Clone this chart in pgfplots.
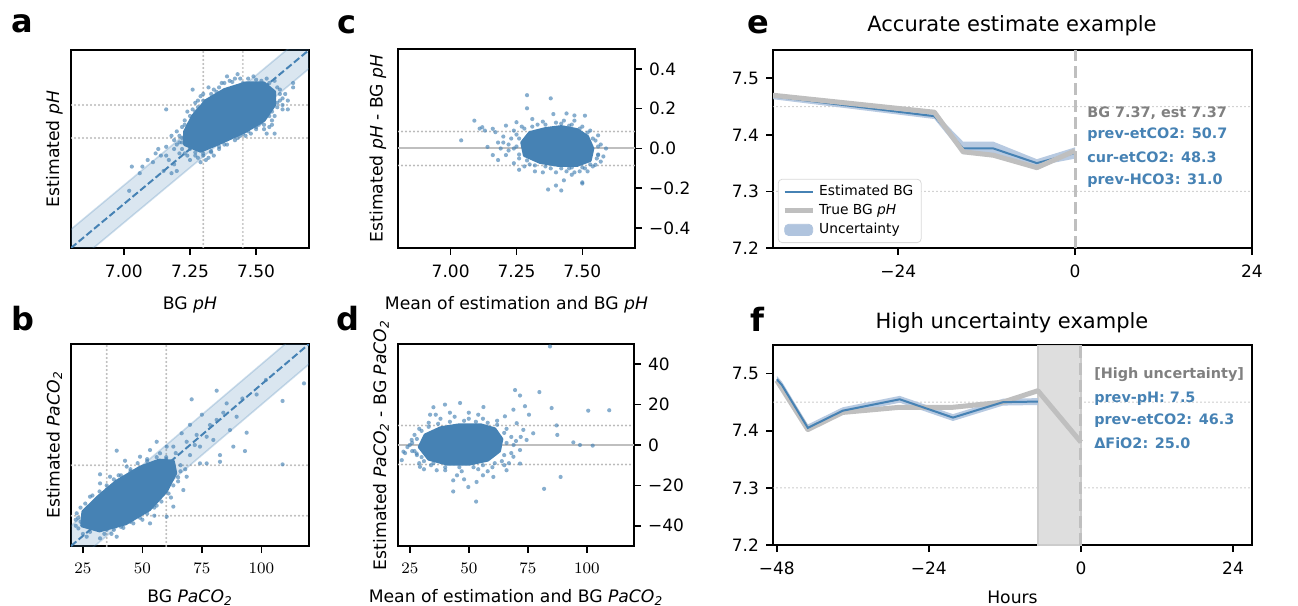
\documentclass[border=0pt]{standalone}
\usepackage{fontspec}
\setmainfont{DejaVu Sans}[ItalicFont={DejaVu Sans Oblique},BoldFont={DejaVu Sans Bold},BoldItalicFont={DejaVu Sans Bold Oblique}]
\usepackage{pgfplots}
\pgfplotsset{compat=1.18}

\definecolor{steelblue}{RGB}{70,130,180}
\definecolor{lsteel}{RGB}{176,196,222}
\definecolor{annogray}{RGB}{128,128,128}
\newcommand\tk{\fontsize{8.5}{10}\selectfont}
\newcommand\lb{\fontsize{8.6}{10}\selectfont}
\newcommand\ttl{\fontsize{10.5}{12}\selectfont}
\newcommand\anno{\fontsize{7.2}{8.5}\selectfont\bfseries}
\newcommand\letter{\fontsize{16}{18}\selectfont\bfseries}

\pgfplotsset{
  panel/.style={
    scale only axis, anchor=south west,
    axis line style={line width=0.9pt},
    every tick/.style={black, line width=0.8pt},
    major tick length=3.5pt, tick align=outside,
    xtick pos=bottom, ytick pos=left,
    tick label style={font=\tk}, label style={font=\lb},
    xticklabel style={yshift=-1.5pt},
  },
  dots/.style={only marks, mark=*, mark size=1.05pt, color=steelblue,
    mark options={draw opacity=0, fill=steelblue, fill opacity=0.65}},
  core/.style={fill=steelblue, draw=steelblue, line width=1.5pt, line join=round},
  refdot/.style={black!27, line width=1.1pt, line cap=round, dash pattern=on 0pt off 2pt},
  thindot/.style={black!27, line width=0.8pt, line cap=round, dash pattern=on 0pt off 2pt},
  band/.style={fill=steelblue, fill opacity=0.2, draw=steelblue, draw opacity=0.25, line width=0.8pt},
  diag/.style={steelblue, line width=1pt, dash pattern=on 3.5pt off 1.5pt},
}

\begin{document}
\begin{tikzpicture}
\path[use as bounding box] (0,0) rectangle (649pt,303pt);

% ---------- a ----------
\begin{axis}[panel, at={(35.5pt,179pt)}, width=119pt, height=99pt,
  xmin=6.8, xmax=7.7, ymin=6.8, ymax=7.7,
  xtick={7,7.25,7.5}, xticklabels={7.00,7.25,7.50}, ytick=\empty,
  xlabel={BG \textit{pH}}, ylabel={Estimated \textit{pH}},
  xlabel style={at={(axis description cs:0.5,-0.285)}, anchor=center},
  ylabel style={at={(axis description cs:-0.070,0.5)}, anchor=center}]
\addplot[refdot] coordinates {(7.3,6.8) (7.3,7.7)};
\addplot[refdot] coordinates {(7.45,6.8) (7.45,7.7)};
\addplot[refdot] coordinates {(6.8,7.3) (7.7,7.3)};
\addplot[refdot] coordinates {(6.8,7.45) (7.7,7.45)};
\addplot[band] coordinates {(6.7,6.615) (7.8,7.715) (7.8,7.885) (6.7,6.785)} -- cycle;
\addplot[diag] coordinates {(6.8,6.8) (7.7,7.7)};
\addplot[core] coordinates {(7.23,7.27) (7.29,7.24) (7.37,7.28) (7.46,7.33) (7.53,7.38)
  (7.57,7.45) (7.57,7.51) (7.53,7.55) (7.46,7.55) (7.38,7.52) (7.31,7.47) (7.26,7.40) (7.23,7.33)} -- cycle;
\addplot[dots] coordinates {
 (7.26,7.52) (7.43,7.59) (7.16,7.43) (7.03,7.17) (7.07,7.17) (7.06,7.14) (7.02,7.06)
 (7.12,7.23) (7.15,7.15) (7.18,7.14) (7.20,7.15) (7.19,7.18) (7.14,7.22) (7.18,7.31)
 (7.21,7.28) (7.23,7.23) (7.29,7.19) (7.31,7.20) (7.30,7.23) (7.34,7.22) (7.60,7.48)
 (7.62,7.43) (7.64,7.53) (7.64,7.55) (7.57,7.32) (7.54,7.32) (7.53,7.36) (7.52,7.56)
 (7.41,7.31) (7.35,7.28) (7.39,7.58) (7.40,7.56) (7.49,7.58) (7.57,7.56) (7.59,7.50)
 (7.60,7.43) (7.55,7.35) (7.47,7.33) (7.43,7.30) (7.36,7.25) (7.33,7.24) (7.27,7.22)
 (7.24,7.22) (7.21,7.23) (7.19,7.25) (7.16,7.26) (7.16,7.22) (7.26,7.28) (7.24,7.29)
 (7.22,7.30) (7.20,7.33) (7.23,7.36) (7.25,7.40) (7.28,7.44) (7.30,7.47) (7.33,7.50)
 (7.36,7.53) (7.38,7.55) (7.42,7.57) (7.47,7.57) (7.54,7.57) (7.58,7.53) (7.61,7.50)
 (7.58,7.46) (7.57,7.40) (7.56,7.38) (7.50,7.34) (7.45,7.32) (7.38,7.29) (7.31,7.26)
 (7.28,7.25) (7.25,7.27) (7.32,7.53) (7.29,7.49) (7.27,7.46) (7.45,7.55) (7.62,7.47)
 (7.51,7.36) (7.11,7.19) (7.13,7.25) (7.09,7.20) (7.17,7.20) (7.22,7.25) (7.25,7.20)
 (7.28,7.21) (7.20,7.27)
 (7.30,7.22) (7.33,7.235) (7.36,7.26) (7.39,7.27) (7.42,7.29) (7.44,7.31) (7.48,7.32)
 (7.50,7.35) (7.52,7.37) (7.55,7.40) (7.56,7.42) (7.58,7.44) (7.59,7.47) (7.59,7.52)
 (7.22,7.35) (7.23,7.38) (7.24,7.42) (7.26,7.43) (7.28,7.47) (7.30,7.50) (7.34,7.52)
 (7.37,7.55) (7.41,7.555) (7.44,7.57) (7.50,7.565) (7.55,7.55) (7.21,7.31) (7.19,7.29)
 (7.22,7.28) (7.25,7.25) (7.27,7.235) (7.32,7.21) (7.38,7.27) (7.46,7.31) (7.53,7.34)
 (7.56,7.36) (7.60,7.45) (7.35,7.51) (7.27,7.42)};
\end{axis}

% ---------- b ----------
\begin{axis}[panel, at={(35.5pt,30pt)}, width=119pt, height=101pt,
  xmin=20, xmax=120, ymin=20, ymax=120,
  xtick={25,50,75,100}, ytick=\empty,
  xlabel={BG \textit{PaCO\textsubscript{2}}}, ylabel={Estimated \textit{PaCO\textsubscript{2}}},
  xlabel style={at={(axis description cs:0.5,-0.255)}, anchor=center},
  ylabel style={at={(axis description cs:-0.070,0.5)}, anchor=center}]
\addplot[refdot] coordinates {(35,20) (35,120)};
\addplot[refdot] coordinates {(60,20) (60,120)};
\addplot[refdot] coordinates {(20,35) (120,35)};
\addplot[refdot] coordinates {(20,60) (120,60)};
\addplot[band] coordinates {(10,0) (130,120) (130,140) (10,20)} -- cycle;
\addplot[diag] coordinates {(20,20) (120,120)};
\addplot[core] coordinates {(24.5,30) (32,27.5) (43,31) (53,38) (60,47) (64,56) (63,62)
  (57,62.5) (49,59) (39,52) (31,44) (25,37)} -- cycle;
\addplot[dots] coordinates {
 (22.4,36.2) (23.1,28.7) (26.6,24.6) (32.2,23.8) (39.2,24.6) (46.2,31.2) (53.2,31.2)
 (60.2,34.5) (63.0,39.5) (67.2,47.7) (68.6,54.3) (32.2,51.0) (28.0,44.4) (36.4,54.3)
 (43.4,59.3) (49.0,64.2) (53.2,67.5) (60.2,69.2) (70.7,92.6) (81.2,96.9) (101.9,102.2)
 (108.9,91.8) (117.9,100.5) (93.8,76.1) (93.1,67.0) (81.2,82.4) (89.6,84.0) (86.8,77.4)
 (79.8,72.5) (82.6,65.0) (74.2,60.9) (77.0,60.9) (108.9,60.4) (82.6,61.7) (39.2,67.2)
 (42.7,62.2) (32.2,55.5) (72.8,75.0) (66.5,75.8) (68.6,71.6) (63.0,69.2) (57.4,65.9)
 (74.2,69.2) (77.0,74.1) (88.2,69.2) (56.0,71.6) (78.4,79.9) (85.4,90.6) (25,26) (28,27)
 (30,33) (27,38) (35,28) (42,29) (48,36) (56,40) (62,44) (65,52) (66,60) (58,58) (52,62)
 (45,57) (40,55) (35,48) (30,40) (24,32) (22,30) (64,66) (70,65) (72,70) (60,64) (68,58)
 (55,35) (50,33) (37,26) (45,40) (60,50) (70,80) (75,85) (84,86) (92,93) (98,95)
 (34,26) (38,28) (41,29.5) (45,32) (49,34) (52,36) (55,39) (58,42) (61,46) (63,50)
 (65,54) (66,57) (24,39) (26,41) (29,45) (32,47) (35,50) (38,53) (41,55) (45,58)
 (48,61) (52,63) (56,64) (60,63) (23,34) (22,33) (28,29) (30,30)};
\end{axis}

% ---------- c ----------
\begin{axis}[panel, at={(199pt,179pt)}, width=118.5pt, height=99.5pt,
  xmin=6.8, xmax=7.7, ymin=-0.5, ymax=0.5,
  xtick={7,7.25,7.5}, xticklabels={7.00,7.25,7.50},
  ytick={-0.4,-0.2,0,0.2,0.4}, yticklabels={−0.4,−0.2,0.0,0.2,0.4},
  ytick pos=right, yticklabel pos=right,
  xlabel={Mean of estimation and BG \textit{pH}}, ylabel={Estimated \textit{pH} - BG \textit{pH}},
  xlabel style={at={(axis description cs:0.5,-0.285)}, anchor=center},
  ylabel style={at={(axis description cs:-0.085,0.5)}, anchor=center}]
\addplot[black!25, line width=1pt] coordinates {(6.8,0) (7.7,0)};
\addplot[refdot] coordinates {(6.8,0.085) (7.7,0.085)};
\addplot[refdot] coordinates {(6.8,-0.085) (7.7,-0.085)};
\addplot[core] coordinates {(7.27,0.03) (7.30,0.08) (7.36,0.10) (7.42,0.11) (7.48,0.095)
  (7.52,0.06) (7.54,0) (7.53,-0.06) (7.48,-0.085) (7.41,-0.085) (7.34,-0.07) (7.28,-0.035)} -- cycle;
\addplot[dots] coordinates {
 (7.29,0.268) (7.29,0.202) (7.38,0.252) (7.04,0.041) (7.09,0.140) (7.12,0.107) (7.16,0.099)
 (7.17,0.082) (7.14,0.008) (7.16,-0.033) (7.18,-0.058) (7.19,0) (7.21,0.115) (7.25,0.132)
 (7.31,0.148) (7.39,0.173) (7.44,0.176) (7.47,0.166) (7.51,0.165) (7.51,0.066) (7.56,0.066)
 (7.59,0) (7.57,-0.066) (7.56,-0.033) (7.55,-0.082) (7.50,-0.170) (7.50,-0.176) (7.46,-0.132)
 (7.43,-0.160) (7.40,-0.186) (7.37,-0.206) (7.42,-0.211) (7.32,-0.115) (7.26,-0.107)
 (7.24,-0.074) (7.21,-0.033) (7.52,-0.115) (7.49,-0.115) (7.44,-0.115) (7.23,0.05) (7.24,0.09)
 (7.27,0.11) (7.33,0.12) (7.40,0.13) (7.46,0.12) (7.50,0.11) (7.53,0.09) (7.55,0.04)
 (7.57,0.02) (7.56,-0.03) (7.54,-0.09) (7.51,-0.10) (7.45,-0.10) (7.38,-0.10) (7.30,-0.08)
 (7.26,-0.05) (7.24,0.0) (7.22,0.02) (7.20,0.06) (7.18,0.03) (7.35,-0.12) (7.28,-0.09)
 (7.47,0.14) (7.35,0.135) (7.43,0.14) (7.11,0.10) (7.13,0.09)
 (7.25,0.07) (7.28,0.10) (7.31,0.11) (7.36,0.12) (7.42,0.125) (7.45,0.115) (7.49,0.10)
 (7.52,0.08) (7.54,0.05) (7.56,0.01) (7.555,-0.05) (7.53,-0.08) (7.50,-0.095) (7.46,-0.095)
 (7.42,-0.10) (7.36,-0.09) (7.32,-0.085) (7.29,-0.06) (7.26,-0.03) (7.25,0.01) (7.26,0.05)
 (7.22,-0.01) (7.20,0.03) (7.58,-0.04) (7.40,-0.12) (7.47,-0.12)};
\end{axis}

% ---------- d ----------
\begin{axis}[panel, at={(199pt,30pt)}, width=118pt, height=101pt,
  xmin=20, xmax=120, ymin=-50, ymax=50,
  xtick={25,50,75,100},
  ytick={-40,-20,0,20,40}, yticklabels={−40,−20,0,20,40},
  ytick pos=right, yticklabel pos=right,
  xlabel={Mean of estimation and BG \textit{PaCO\textsubscript{2}}},
  ylabel={Estimated \textit{PaCO\textsubscript{2}} - BG \textit{PaCO\textsubscript{2}}},
  xlabel style={at={(axis description cs:0.5,-0.255)}, anchor=center},
  ylabel style={at={(axis description cs:-0.072,0.5)}, anchor=center}]
\addplot[black!25, line width=1pt] coordinates {(20,0) (120,0)};
\addplot[refdot] coordinates {(20,9.7) (120,9.7)};
\addplot[refdot] coordinates {(20,-9.7) (120,-9.7)};
\addplot[core] coordinates {(29,-1) (31.5,5) (38,8.5) (46,10) (55,10) (61,8) (64,3) (63,-3)
  (58,-7.5) (50,-9.5) (41,-9.5) (33,-7)} -- cycle;
\addplot[dots] coordinates {
 (84.4,48.8) (69.6,27.2) (71.7,24.5) (79.9,26.2) (85.1,18.3) (100.6,17.0) (109.5,17.2)
 (87.2,9.7) (87.5,5.0) (75.5,15.0) (73.8,19.2) (68.9,17.5) (94.3,1.3) (97.1,0) (102.5,-0.3)
 (88.9,-15.8) (81.9,-21.7) (53.1,-28) (43.4,-23) (49.8,-20.8) (35.0,18.7) (39.9,20)
 (46.3,20.8) (56.2,18.8) (22.3,-3.3) (21.6,-7.5) (25.8,2.5) (33.6,15) (65.3,14.2)
 (70.3,10.8) (73.1,7.5) (74.5,2.5) (77.3,5.8) (71.7,-2.5) (68.9,-5.8) (71.7,-9.2)
 (66.0,-12.5) (60.4,-15.8) (53.3,-18.3) (43.4,-17.5) (36.4,-12.5) (29.3,-10.8) (27.9,-4.2)
 (26,1) (27,5) (29,8) (33,11) (38,13) (44,14) (50,13) (56,13) (62,12) (66,8) (68,4) (69,0)
 (68,-4) (64,-8) (60,-11) (54,-12) (47,-13) (40,-12.5) (34,-10) (30,-6) (26,-3) (24,-1)
 (31,-12) (45,-15) (58,-13) (65,-10) (67,-9) (70,2) (72,4) (42,16) (50,16) (54,15) (36,15)
 (27,-3) (28,3) (30,7) (33,9) (37,10.5) (42,11.5) (48,12) (53,11.5) (58,11) (62,10) (65,6)
 (66,1) (65,-5) (61,-9) (56,-10) (52,-11) (46,-11) (40,-11) (35,-9) (31,-8) (28,-5) (25,0)
 (23,-4) (29,-9) (48,-17) (56,-15)};
\end{axis}

% ---------- e ----------
\begin{axis}[panel, at={(386.5pt,179pt)}, width=239.5pt, height=99pt,
  xmin=-41, xmax=24, ymin=7.2, ymax=7.55,
  xtick={-24,0,24}, xticklabels={−24,0,24},
  ytick={7.2,7.3,7.4,7.5}, yticklabels={7.2,7.3,7.4,7.5},
  legend style={at={(0.01,0.025)}, anchor=south west, font=\fontsize{6.9}{8}\selectfont,
    draw=black!15, rounded corners=2pt, fill=white, inner xsep=2pt, inner ysep=1pt,
    row sep=-1.2pt},
  legend cell align=left,
  legend image code/.code={\draw[#1] (0pt,0pt) -- (14pt,0pt);}]
\addplot[thindot, forget plot] coordinates {(-41,7.45) (24,7.45)};
\addplot[thindot, forget plot] coordinates {(-41,7.3) (24,7.3)};
\addplot[fill=lsteel, draw=none, fill opacity=0.9, forget plot] coordinates {
 (-41,7.473) (-19.1,7.440) (-15.2,7.388) (-11.1,7.388) (-5.2,7.357) (0,7.378)
 (0,7.358) (-5.2,7.345) (-11.1,7.366) (-15.2,7.366) (-19.1,7.428) (-41,7.463)} -- cycle;
\addplot[steelblue, line width=1pt] coordinates {
 (-41,7.468) (-19.1,7.433) (-15.2,7.376) (-11.1,7.376) (-5.2,7.350) (0,7.368)};
\addlegendentry{Estimated BG}
\addplot[black!25, line width=2.5pt, line join=round] coordinates {
 (-41,7.470) (-19.1,7.440) (-15.2,7.370) (-11.1,7.364) (-5.2,7.342) (0,7.372)};
\addlegendentry{True BG \textit{pH}}
\addlegendimage{legend image code/.code={\fill[lsteel] (0pt,-2.8pt) rectangle (14pt,2.8pt);}}
\addlegendentry{Uncertainty}
\addplot[black!25, line width=1.5pt, dash pattern=on 6pt off 2.5pt, forget plot] coordinates {(0,7.2) (0,7.55)};
\node[anchor=west, font=\anno, text=annogray, inner sep=0] at (axis cs:1.6,7.439) {BG 7.37, est 7.37};
\node[anchor=west, font=\anno, text=steelblue, inner sep=0] at (axis cs:1.6,7.400) {prev-etCO2: 50.7};
\node[anchor=west, font=\anno, text=steelblue, inner sep=0] at (axis cs:1.6,7.360) {cur-etCO2: 48.3};
\node[anchor=west, font=\anno, text=steelblue, inner sep=0] at (axis cs:1.6,7.319) {prev-HCO3: 31.0};
\end{axis}

% ---------- f ----------
\begin{axis}[panel, at={(386.5pt,30.5pt)}, width=239.5pt, height=100pt,
  xmin=-48.6, xmax=27, ymin=7.2, ymax=7.55,
  xtick={-48,-24,0,24}, xticklabels={−48,−24,0,24},
  ytick={7.2,7.3,7.4,7.5}, yticklabels={7.2,7.3,7.4,7.5},
  xlabel={Hours},
  xlabel style={at={(axis description cs:0.5,-0.26)}, anchor=center}]
\addplot[thindot] coordinates {(-48.6,7.45) (27,7.45)};
\addplot[thindot] coordinates {(-48.6,7.3) (27,7.3)};
\addplot[fill=black!13, draw=black!20, line width=0.8pt] coordinates {(-6.8,7.2) (0,7.2) (0,7.55) (-6.8,7.55)} -- cycle;
\addplot[fill=lsteel, draw=none, fill opacity=0.9] coordinates {
 (-48,7.496) (-47.2,7.486) (-43.1,7.411) (-37.6,7.441) (-28.6,7.461) (-20.2,7.429) (-12.3,7.456) (-6.8,7.457)
 (-6.8,7.445) (-12.3,7.444) (-20.2,7.417) (-28.6,7.449) (-37.6,7.429) (-43.1,7.399) (-47.2,7.474) (-48,7.484)} -- cycle;
\addplot[black!25, line width=2.5pt, line join=round] coordinates {
 (-48,7.488) (-43.1,7.402) (-37.6,7.432) (-28.6,7.441) (-20.2,7.441) (-12.3,7.450) (-6.8,7.470) (0,7.380)};
\addplot[steelblue, line width=1pt] coordinates {
 (-48,7.490) (-47.2,7.480) (-43.1,7.405) (-37.6,7.435) (-28.6,7.455) (-20.2,7.423) (-12.3,7.450) (-6.8,7.451)};
\addplot[black!25, line width=1.5pt, dash pattern=on 6pt off 2.5pt] coordinates {(0,7.2) (0,7.55)};
\node[anchor=west, font=\anno, text=annogray, inner sep=0] at (axis cs:2.05,7.498) {[High uncertainty]};
\node[anchor=west, font=\anno, text=steelblue, inner sep=0] at (axis cs:2.05,7.456) {prev-pH: 7.5};
\node[anchor=west, font=\anno, text=steelblue, inner sep=0] at (axis cs:2.05,7.418) {prev-etCO2: 46.3};
\node[anchor=west, font=\anno, text=steelblue, inner sep=0] at (axis cs:2.05,7.378) {ΔFiO2: 25.0};
\end{axis}

% panel letters and titles
\node[font=\letter, inner sep=0] at (11pt,291pt) {a};
\node[font=\letter, inner sep=0] at (11.5pt,143.5pt) {b};
\node[font=\letter, inner sep=0] at (173.5pt,290.5pt) {c};
\node[font=\letter, inner sep=0] at (174pt,143.5pt) {d};
\node[font=\letter, inner sep=0] at (379pt,290.5pt) {e};
\node[font=\letter, inner sep=0] at (378.5pt,143.5pt) {f};
\node[font=\ttl, inner sep=0] at (506pt,290pt) {Accurate estimate example};
\node[font=\ttl, inner sep=0] at (506pt,141.5pt) {High uncertainty example};
\end{tikzpicture}
\end{document}
